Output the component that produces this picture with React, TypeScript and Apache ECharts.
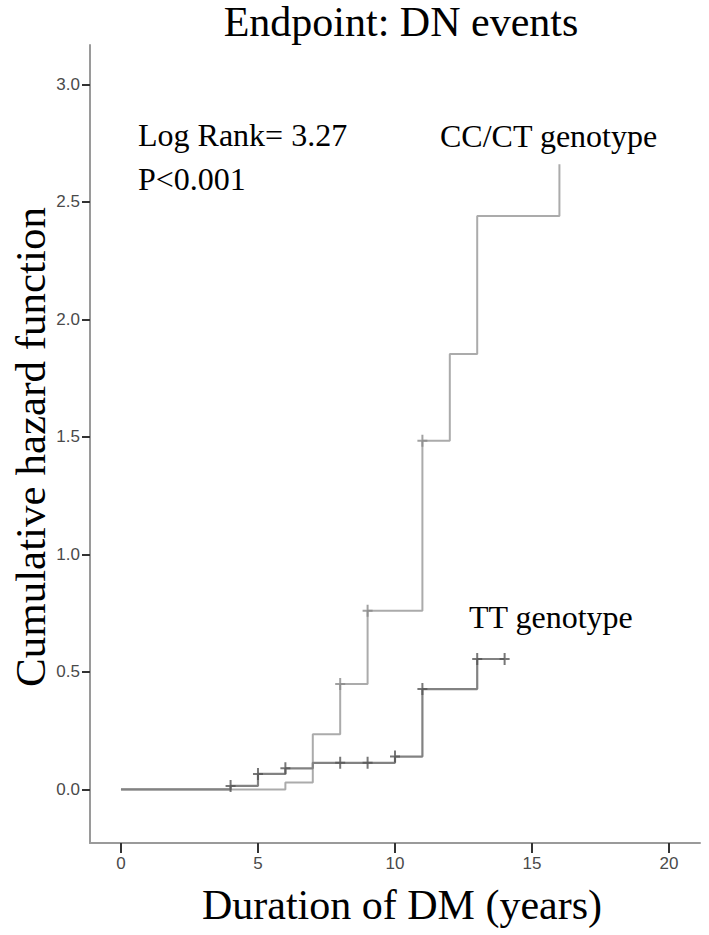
import React, { useEffect, useRef } from "react";
import * as echarts from "echarts";

// Cumulative hazard step data (time in years, cumulative hazard)
const ccctTimes = [0, 6, 7, 8, 9, 11, 12, 13, 16];
const ccctValues = [0, 0.029, 0.235, 0.449, 0.76, 1.484, 1.853, 2.44, 2.66];
const ccctCensorTimes = [8, 9, 11];
const ccctCensorValues = [0.449, 0.76, 1.484];

const ttTimes = [0, 4, 5, 6, 7, 10, 11, 13, 14];
const ttValues = [0, 0.015, 0.066, 0.09, 0.113, 0.14, 0.427, 0.555, 0.555];
const ttCensorTimes = [4, 5, 6, 8, 9, 10, 11, 13, 14];
const ttCensorValues = [0.015, 0.066, 0.09, 0.113, 0.113, 0.14, 0.427, 0.555, 0.555];

const xTicks = [0, 5, 10, 15, 20];
const yTicks = [0, 0.5, 1, 1.5, 2, 2.5, 3];

const titleText = "Endpoint: DN events";
const xLabel = "Duration of DM (years)";
const yLabel = "Cumulative hazard function";
const logRankText = "Log Rank= 3.27";
const pText = "P<0.001";
const ccctLabel = "CC/CT genotype";
const ttLabel = "TT genotype";

const SERIF = "'Liberation Serif', 'Times New Roman', serif";
const PLUS = "path://M4,0H6V5H10V7H6V12H4V7H0V5H4Z";

export default function App() {
  const ref = useRef<HTMLDivElement>(null);
  useEffect(() => {
    if (!ref.current) return;
    const chart = echarts.init(ref.current, null, { renderer: "svg" });
    const zip = (a: number[], b: number[]) => a.map((t, i) => [t, b[i]]);
    chart.setOption({
      animation: false,
      backgroundColor: "#ffffff",
      grid: { left: 90, top: 45, right: 9, bottom: 92, containLabel: false },
      xAxis: {
        type: "value",
        min: -1.13,
        max: 21.13,
        interval: 5,
        splitLine: { show: false },
        axisLine: { onZero: false, lineStyle: { color: "#9a9a9a", width: 2 } },
        axisTick: {
          show: true,
          length: 10,
          lineStyle: { color: "#333", width: 2 },
          customValues: xTicks,
        },
        axisLabel: {
          customValues: xTicks,
          color: "#4a4a4a",
          fontSize: 17,
          fontFamily: "'Liberation Sans', Arial, sans-serif",
          margin: 12,
          formatter: (v: number) => String(v),
        },
      },
      yAxis: {
        type: "value",
        min: -0.228,
        max: 3.168,
        splitLine: { show: false },
        axisLine: { onZero: false, lineStyle: { color: "#9a9a9a", width: 2 } },
        axisTick: {
          show: true,
          length: 8,
          lineStyle: { color: "#333", width: 2 },
          customValues: yTicks,
        },
        axisLabel: {
          customValues: yTicks,
          color: "#4a4a4a",
          fontSize: 17,
          fontFamily: "'Liberation Sans', Arial, sans-serif",
          margin: 10,
          formatter: (v: number) => v.toFixed(1),
        },
      },
      series: [
        {
          name: "CC/CT genotype",
          type: "line",
          step: "end",
          data: zip(ccctTimes, ccctValues),
          showSymbol: false,
          lineStyle: { color: "#ababab", width: 2 },
          z: 2,
        },
        {
          name: "TT genotype",
          type: "line",
          step: "end",
          data: zip(ttTimes, ttValues),
          showSymbol: false,
          lineStyle: { color: "#828282", width: 2.2 },
          z: 3,
        },
        {
          type: "scatter",
          data: zip(ccctCensorTimes, ccctCensorValues),
          symbol: PLUS,
          symbolSize: [10, 12],
          itemStyle: { color: "#8a8a8a" },
          z: 4,
        },
        {
          type: "scatter",
          data: zip(ttCensorTimes, ttCensorValues),
          symbol: PLUS,
          symbolSize: [10, 12],
          itemStyle: { color: "#555555" },
          z: 5,
        },
      ],
      graphic: [
        {
          type: "text",
          x: 401,
          y: 22,
          style: { text: titleText, font: `42px ${SERIF}`, fill: "#000", align: "center", verticalAlign: "middle" },
        },
        {
          type: "text",
          x: 402,
          y: 905,
          style: { text: xLabel, font: `42px ${SERIF}`, fill: "#000", align: "center", verticalAlign: "middle" },
        },
        {
          type: "text",
          x: 30,
          y: 447,
          rotation: Math.PI / 2,
          style: { text: yLabel, font: `43px ${SERIF}`, fill: "#000", align: "center", verticalAlign: "middle" },
        },
        {
          type: "text",
          x: 138,
          y: 135,
          style: { text: logRankText, font: `32px ${SERIF}`, fill: "#000", align: "left", verticalAlign: "middle" },
        },
        {
          type: "text",
          x: 138,
          y: 179,
          style: { text: pText, font: `32px ${SERIF}`, fill: "#000", align: "left", verticalAlign: "middle" },
        },
        {
          type: "text",
          x: 440,
          y: 136,
          style: { text: ccctLabel, font: `32px ${SERIF}`, fill: "#000", align: "left", verticalAlign: "middle" },
        },
        {
          type: "text",
          x: 469,
          y: 617,
          style: { text: ttLabel, font: `32px ${SERIF}`, fill: "#000", align: "left", verticalAlign: "middle" },
        },
      ],
    });
    return () => chart.dispose();
  }, []);
  return <div ref={ref} style={{ width: 709, height: 935, position: "absolute", left: 0, top: 0 }} />;
}
